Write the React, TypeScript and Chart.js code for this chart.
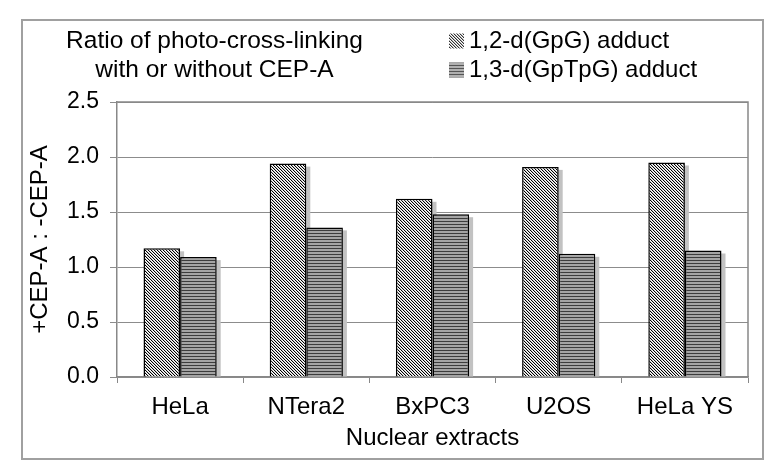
import React, { useEffect, useRef } from "react";
import { Chart, registerables } from "chart.js";

Chart.register(...registerables);

const categories = ["HeLa", "NTera2", "BxPC3", "U2OS", "HeLa YS"];
const seriesNames = ["1,2-d(GpG) adduct", "1,3-d(GpTpG) adduct"];
const gpgValues = [1.17, 1.94, 1.62, 1.91, 1.95];
const gptpgValues = [1.09, 1.36, 1.48, 1.12, 1.15];
const titleLines = ["Ratio of photo-cross-linking", "with or without CEP-A"];
const yTitle = "+CEP-A : -CEP-A";
const xTitle = "Nuclear extracts";

const FONT = "'Liberation Sans', Arial, Helvetica, sans-serif";

function makeDiagonal(dark: string, mid: string, light: string): CanvasPattern | string {
  const c = document.createElement("canvas");
  c.width = 3;
  c.height = 3;
  const ctx = c.getContext("2d");
  if (!ctx) return dark;
  for (let y = 0; y < 3; y++) {
    for (let x = 0; x < 3; x++) {
      const m = (((x - y) % 3) + 3) % 3;
      ctx.fillStyle = m === 0 ? dark : m === 1 ? mid : light;
      ctx.fillRect(x, y, 1, 1);
    }
  }
  const p = ctx.createPattern(c, "repeat");
  return p || dark;
}

function makeHorizontal(dark: string, light: string): CanvasPattern | string {
  const c = document.createElement("canvas");
  c.width = 3;
  c.height = 3;
  const ctx = c.getContext("2d");
  if (!ctx) return dark;
  for (let y = 0; y < 3; y++) {
    ctx.fillStyle = y === 0 ? dark : light;
    ctx.fillRect(0, y, 3, 1);
  }
  const p = ctx.createPattern(c, "repeat");
  return p || dark;
}

export default function App() {
  const ref = useRef<HTMLCanvasElement | null>(null);

  useEffect(() => {
    if (!ref.current) return;
    const diag = makeDiagonal("#000000", "#c8c8c8", "#ffffff");
    const horiz = makeHorizontal("#3c3c3c", "#a4a4a4");
    const diagLegend = makeDiagonal("#333333", "#b8b8b8", "#ffffff");
    const horizLegend = makeHorizontal("#555555", "#b0b0b0");

    const shadowPlugin = {
      id: "barShadow",
      beforeDatasetsDraw(chart: any) {
        const ctx = chart.ctx;
        ctx.save();
        ctx.fillStyle = "#c2c2c2";
        chart.data.datasets.forEach((_d: any, i: number) => {
          const meta = chart.getDatasetMeta(i);
          meta.data.forEach((el: any) => {
            const { x, y, base, width } = el.getProps(["x", "y", "base", "width"], true);
            const top = y + 3;
            const h = base - top;
            if (h > 0) ctx.fillRect(x - width / 2 + 4, top, width, h);
          });
        });
        ctx.restore();
      },
    };

    const decorPlugin = {
      id: "decor",
      afterDraw(chart: any) {
        const ctx = chart.ctx;
        const a = chart.chartArea;
        ctx.save();
        ctx.strokeStyle = "#888888";
        ctx.lineWidth = 1.5;
        ctx.beginPath();
        ctx.moveTo(a.left, a.top);
        ctx.lineTo(a.right, a.top);
        ctx.lineTo(a.right, a.bottom);
        ctx.stroke();
        ctx.strokeStyle = "#a0a0a0";
        ctx.lineWidth = 2;
        ctx.strokeRect(14, 12, 741, 439);
        ctx.fillStyle = "#000000";
        ctx.font = `24.5px ${FONT}`;
        ctx.textAlign = "center";
        ctx.textBaseline = "middle";
        ctx.fillText(titleLines[0], 206.5, 33);
        ctx.fillText(titleLines[1], 206.5, 62);
        const swatches = [diagLegend, horizLegend];
        const ys = [33, 62];
        ctx.textAlign = "left";
        ctx.font = `24px ${FONT}`;
        seriesNames.forEach((name, i) => {
          ctx.fillStyle = swatches[i];
          ctx.fillRect(441, ys[i] - 7.5, 15, 15);
          ctx.fillStyle = "#000000";
          ctx.fillText(name, 461, ys[i]);
        });
        ctx.restore();
      },
    };

    const chart = new Chart(ref.current, {
      type: "bar",
      data: {
        labels: categories,
        datasets: [
          {
            label: seriesNames[0],
            data: gpgValues,
            backgroundColor: diag as any,
            borderColor: "#000000",
            borderWidth: 1.5,
            categoryPercentage: 0.58,
            barPercentage: 1.0,
          },
          {
            label: seriesNames[1],
            data: gptpgValues,
            backgroundColor: horiz as any,
            borderColor: "#000000",
            borderWidth: 1.5,
            categoryPercentage: 0.58,
            barPercentage: 1.0,
          },
        ],
      },
      options: {
        responsive: false,
        animation: false,
        layout: { padding: { left: 8, right: 18, top: 94, bottom: 8 } },
        plugins: {
          legend: { display: false },
          title: { display: false },
          tooltip: { enabled: false },
        },
        scales: {
          x: {
            afterFit: (s: any) => {
              s.height = 76;
            },
            grid: {
              offset: true,
              drawOnChartArea: false,
              drawTicks: true,
              tickLength: 6,
              color: "#888888",
            },
            border: { display: true, color: "#888888", width: 1.5 },
            ticks: {
              color: "#000000",
              font: { family: FONT, size: 24 },
              padding: 10,
              maxRotation: 0,
            },
            title: {
              display: true,
              text: xTitle,
              color: "#000000",
              font: { family: FONT, size: 24 },
              padding: { top: 0, bottom: 0 },
            },
          },
          y: {
            min: 0,
            max: 2.5,
            afterFit: (s: any) => {
              s.width = 101;
            },
            grid: {
              color: "#8c8c8c",
              lineWidth: 1,
              drawTicks: true,
              tickLength: 7,
            },
            border: { display: true, color: "#888888", width: 1.5 },
            ticks: {
              stepSize: 0.5,
              color: "#000000",
              font: { family: FONT, size: 23 },
              padding: 11,
              callback: (v: any) => Number(v).toFixed(1),
            },
            title: {
              display: true,
              text: yTitle,
              color: "#000000",
              font: { family: FONT, size: 24 },
              padding: { top: 10, bottom: 0 },
            },
          },
        },
      },
      plugins: [shadowPlugin, decorPlugin],
    });

    return () => chart.destroy();
  }, []);

  return (
    <div style={{ width: 758, height: 453 }}>
      <canvas ref={ref} width={758} height={453} style={{ display: "block" }} />
    </div>
  );
}
